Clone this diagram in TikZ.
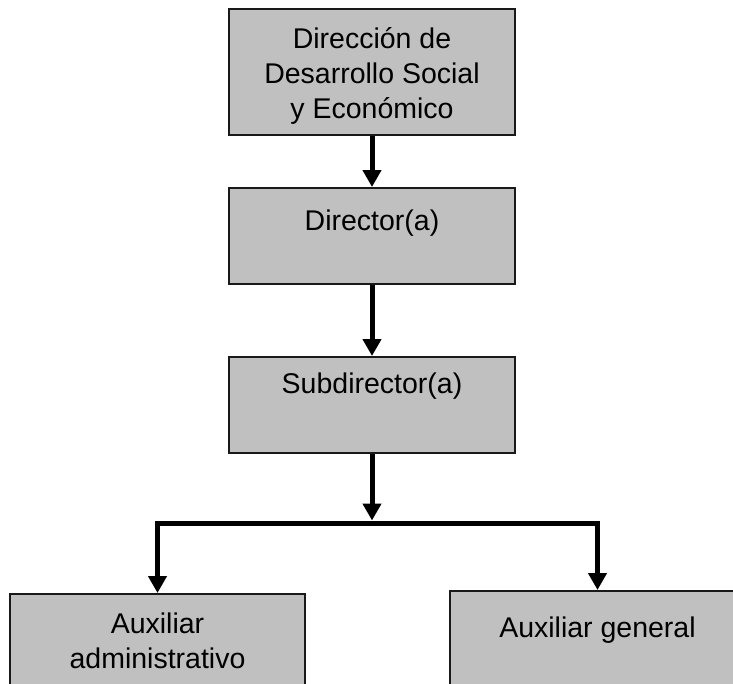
\documentclass[tikz,border=0pt]{standalone}
\usepackage{fontspec}
\setmainfont{Liberation Sans}
\usetikzlibrary{arrows.meta}
\definecolor{boxgray}{RGB}{192,192,192}
\definecolor{boxline}{RGB}{25,25,25}
\begin{document}
\begin{tikzpicture}[x=1pt,y=-1pt,
  box/.style={draw=boxline, line width=2pt, fill=boxgray, inner sep=0pt},
  lbl/.style={anchor=base, inner sep=0pt, font=\fontsize{28.5}{35}\selectfont},
  conn/.style={line width=5pt, line join=miter, -{Triangle[width=18pt,length=17pt]}}]
\useasboundingbox (0,0) rectangle (733,683);
\clip (0,0) rectangle (733,683);
\fill[white] (0,0) rectangle (733,683);
% boxes
\node[box, minimum width=286pt, minimum height=126pt] (b1) at (372,72) {};
\node[box, minimum width=286pt, minimum height=96pt] (b2) at (372,236) {};
\node[box, minimum width=286pt, minimum height=96pt] (b3) at (372,405) {};
\node[box, minimum width=295pt, minimum height=112pt] (b4) at (157.5,650) {};
\node[box, minimum width=295pt, minimum height=112pt] (b5) at (597.5,647) {};
% labels
\node[lbl] (t1) at (372,48) {\begin{tabular}[t]{@{}c@{}}Dirección de\\Desarrollo Social\\y Económico\end{tabular}};
\node[lbl] (t2) at (372,230) {Director(a)};
\node[lbl] (t3) at (372,393) {Subdirector(a)};
\node[lbl] (t4) at (157.5,633) {\begin{tabular}[t]{@{}c@{}}Auxiliar\\administrativo\end{tabular}};
\node[lbl] (t5) at (597.5,637) {Auxiliar general};
% connectors
\coordinate (j) at (372,523);
\draw[conn] (b1.south) -- (b2.north);
\draw[conn] (b2.south) -- (b3.north);
\draw[conn] (b3.south) -- ([yshift=2.5pt]j);
\draw[conn] (j) -| (b4.north);
\draw[conn] (j) -| (b5.north);
\end{tikzpicture}
\end{document}
